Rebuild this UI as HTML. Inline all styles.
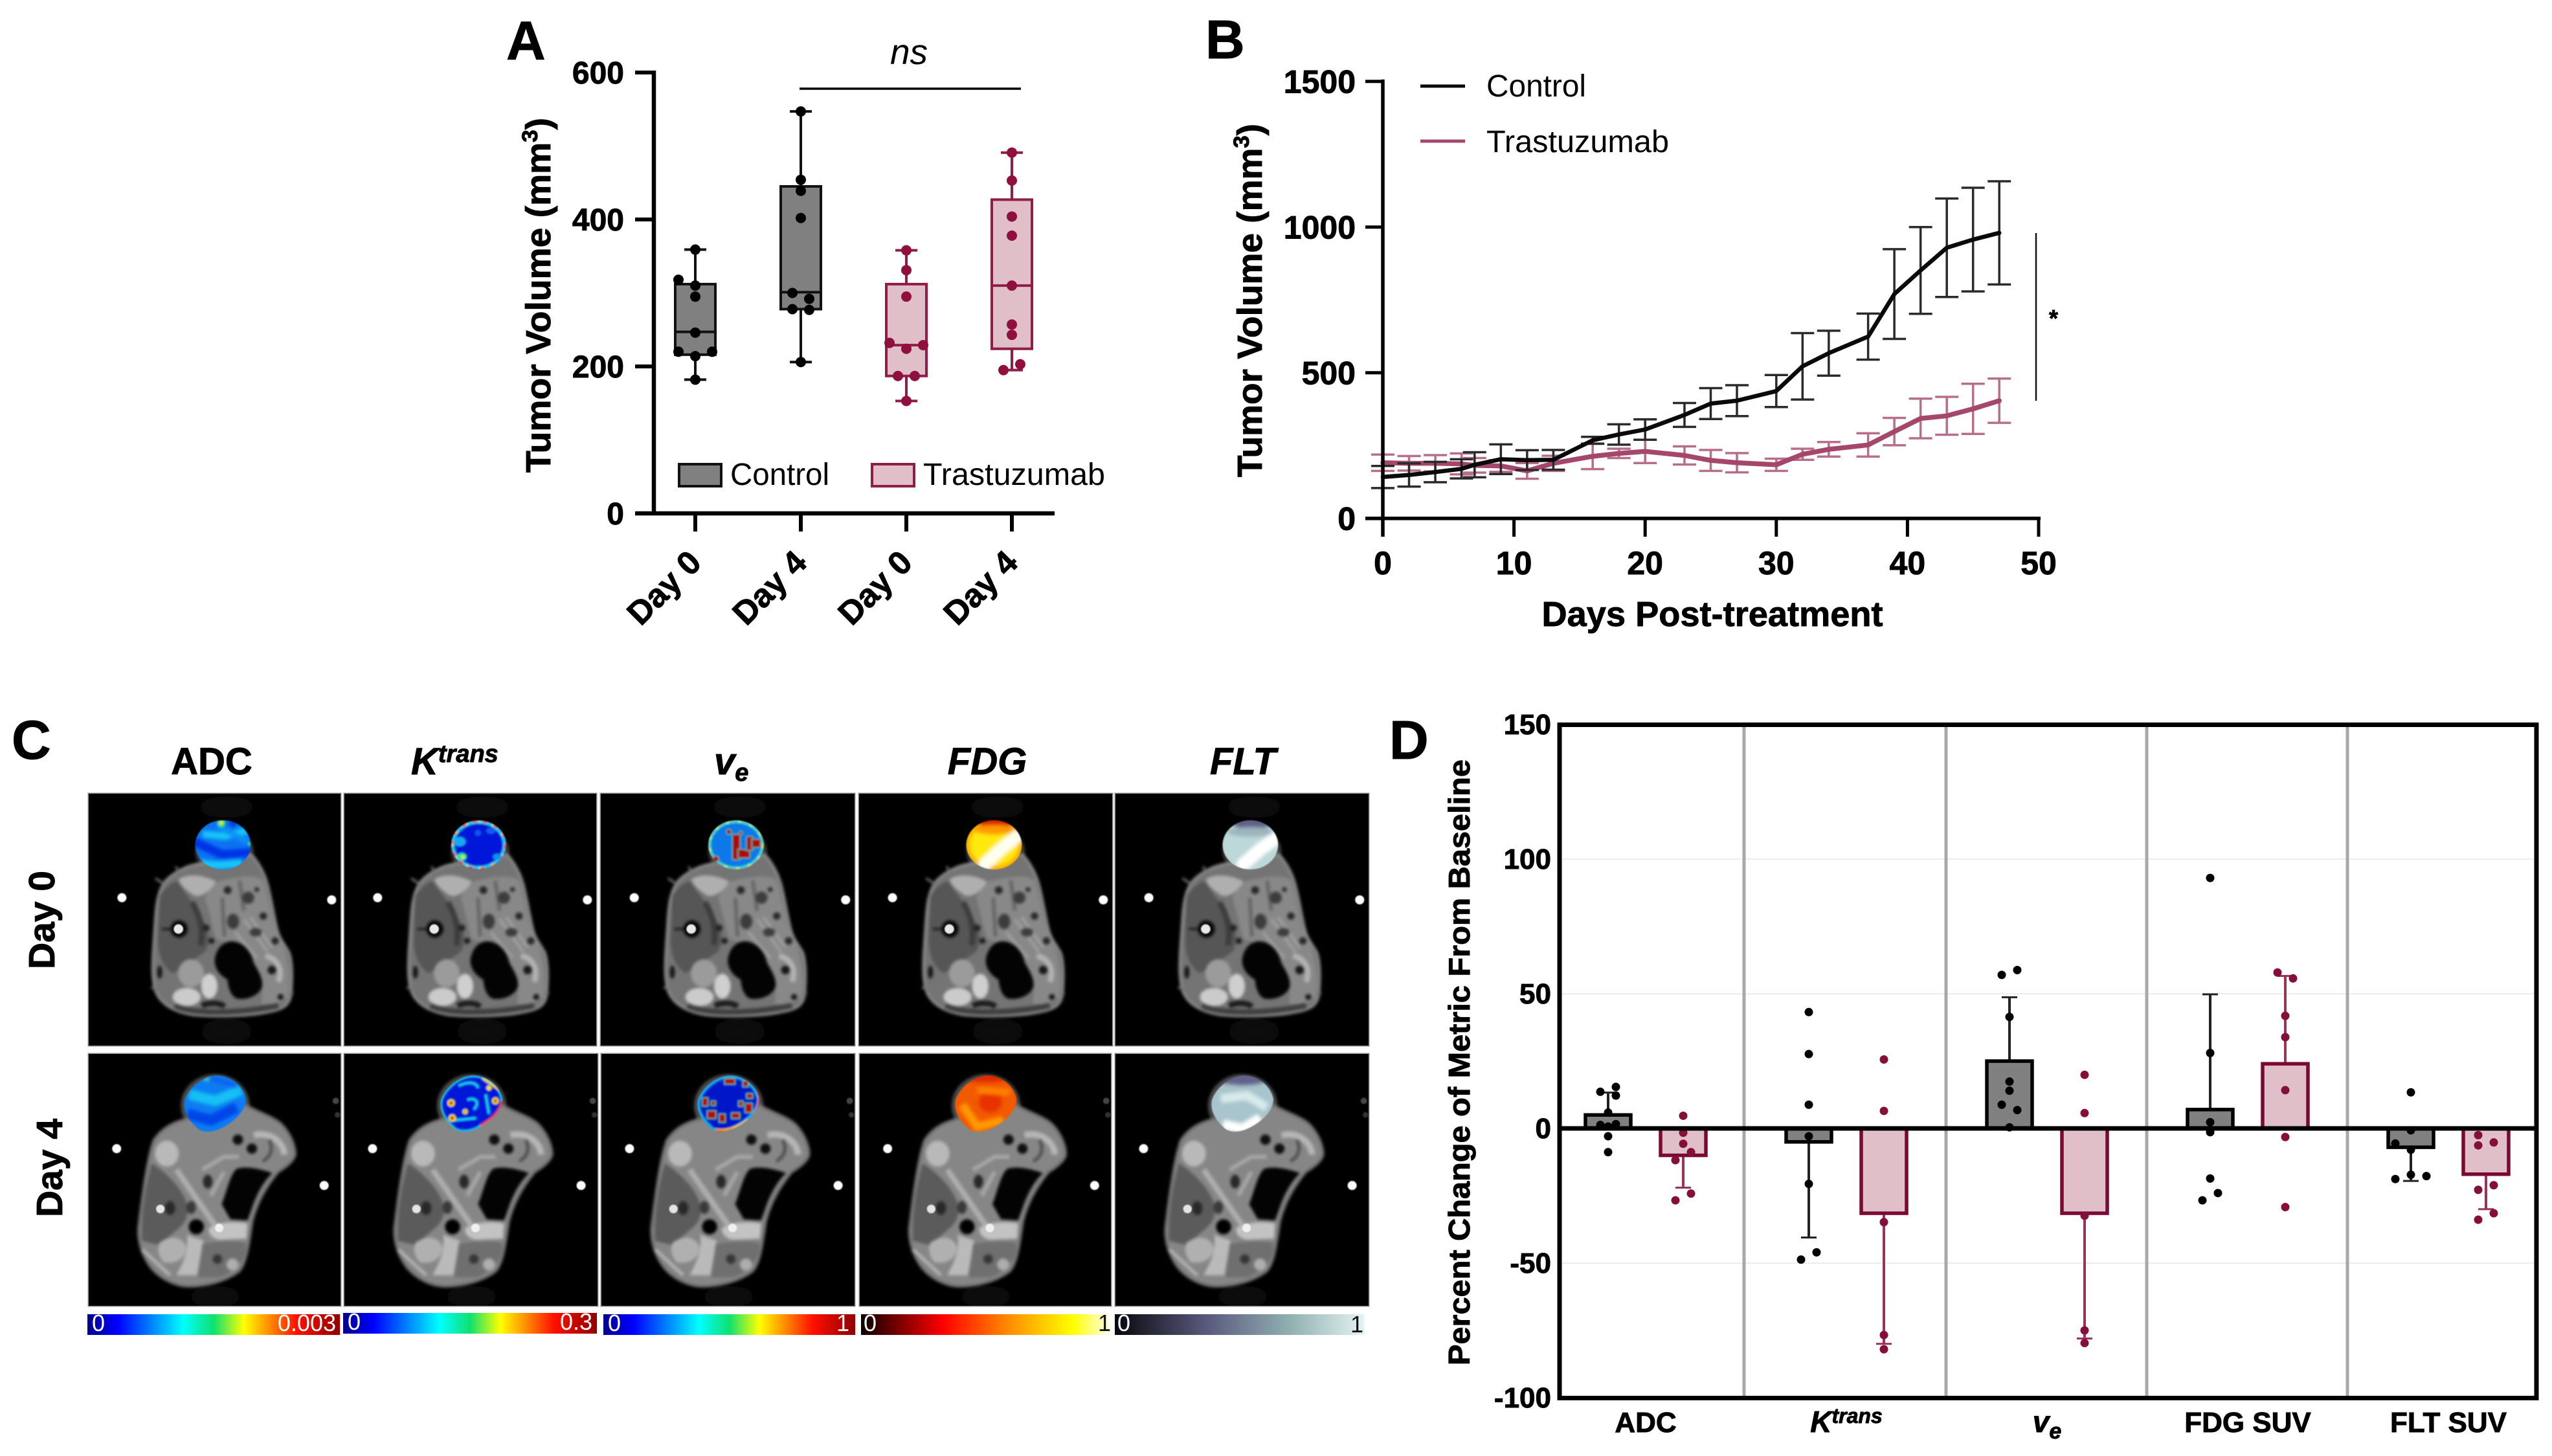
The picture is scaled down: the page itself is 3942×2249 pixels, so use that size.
<!DOCTYPE html>
<html lang="en">
<head>
<meta charset="utf-8">
<title>Tumor response figure</title>
<style>
html,body{margin:0;padding:0;background:#fff;}
svg{display:block;}
text{font-family:"Liberation Sans",sans-serif;}
text[font-weight="700"]{stroke:#000;stroke-width:.9px;}
</style>
</head>
<body>
<svg id="fig" xmlns="http://www.w3.org/2000/svg" width="3942" height="2249" viewBox="0 0 3942 2249">
<defs>
<filter id="soft" x="-10%" y="-10%" width="120%" height="120%"><feGaussianBlur stdDeviation="9"/></filter>
<filter id="softer" x="-10%" y="-10%" width="120%" height="120%"><feGaussianBlur stdDeviation="4"/></filter>
<filter id="edge" x="-10%" y="-10%" width="120%" height="120%"><feGaussianBlur stdDeviation="2.5"/></filter>
<filter id="glow" x="-30%" y="-30%" width="160%" height="160%"><feGaussianBlur stdDeviation="30"/></filter>
<filter id="tissue" x="-5%" y="-5%" width="110%" height="110%" color-interpolation-filters="sRGB">
<feGaussianBlur in="SourceGraphic" stdDeviation="7"/>
<feColorMatrix type="matrix" values=".84 0 0 0 0 0 .84 0 0 0 0 0 .84 0 0 0 0 0 1 0"/>
</filter>
<linearGradient id="jet"><stop offset="0" stop-color="#00008f"/><stop offset=".12" stop-color="#0000ff"/><stop offset=".38" stop-color="#00ffff"/><stop offset=".5" stop-color="#10e070"/><stop offset=".62" stop-color="#ffff00"/><stop offset=".83" stop-color="#ff1000"/><stop offset="1" stop-color="#900000"/></linearGradient>
<linearGradient id="hot"><stop offset="0" stop-color="#0a0000"/><stop offset=".33" stop-color="#ff0000"/><stop offset=".6" stop-color="#ff9000"/><stop offset=".85" stop-color="#ffff00"/><stop offset="1" stop-color="#fffff0"/></linearGradient>
<linearGradient id="bone"><stop offset="0" stop-color="#08080e"/><stop offset=".38" stop-color="#5c5c80"/><stop offset=".7" stop-color="#90b0b0"/><stop offset="1" stop-color="#e4f2f2"/></linearGradient>
<clipPath id="clip-t0"><ellipse cx="643" cy="255" rx="128" ry="114"/></clipPath>
<clipPath id="clip-t4"><path d="M680 122C750 120 810 170 822 230C825 280 770 340 700 370C660 388 620 385 600 370C555 330 530 290 537 240C550 190 610 130 680 122Z"/></clipPath>

<g id="anat-day0">
<rect width="1260" height="1260" fill="#000"/>
<ellipse cx="660" cy="1120" rx="120" ry="60" fill="#111" filter="url(#glow)"/>
<ellipse cx="660" cy="80" rx="130" ry="50" fill="#0e0e0e" filter="url(#glow)"/>
<g filter="url(#tissue)">
<ellipse cx="650" cy="285" rx="135" ry="110" fill="#4a4a4a"/>
<path d="M520 345C470 355 410 385 375 425C345 465 335 520 330 600L320 750C316 830 316 880 330 930C350 985 400 1025 500 1042C600 1052 760 1050 850 1030C910 1020 950 1005 958 950C965 880 965 800 950 755C925 710 905 690 895 650C880 590 870 520 850 440C835 385 810 340 775 300Z" fill="#8a8a8a" stroke="#a8a8a8" stroke-width="12"/>
<path d="M330 410L375 440M425 355L440 385M310 915L345 930M970 942L940 945" stroke="#8a8a8a" stroke-width="10"/>
<path d="M350 490C385 445 410 425 430 425C470 480 510 530 545 590C575 640 590 700 560 750C500 790 450 830 410 850C370 820 345 780 342 700Z" fill="#666"/>
<path d="M500 520C530 570 555 640 540 720" fill="none" stroke="#484848" stroke-width="26"/>
<path d="M600 430C700 400 800 390 830 420C860 520 870 620 900 680C950 760 955 880 945 960C900 1000 860 1000 820 990C840 900 800 790 720 730L610 690C590 620 575 540 560 500Z" fill="#a2a2a2"/>
<path d="M740 600L850 750M770 590L870 730M700 660L800 780" stroke="#c8c8c8" stroke-width="9" fill="none"/>
<path d="M640 500L650 680M720 420L740 560" stroke="#787878" stroke-width="16" fill="none"/>
<path d="M840 770C900 780 920 840 900 890" fill="none" stroke="#d4d4d4" stroke-width="26"/>
<path d="M420 1000C500 1040 700 1040 900 1000" fill="none" stroke="#4a4a4a" stroke-width="26"/>
<path d="M545 1000C580 985 630 985 650 1005" fill="none" stroke="#222" stroke-width="26"/>
<path d="M438 415C480 385 560 395 610 425C590 470 540 500 510 490C480 470 450 450 438 415Z" fill="#d0d0d0"/>
<ellipse cx="495" cy="850" rx="60" ry="65" fill="#b8b8b8"/>
<ellipse cx="475" cy="960" rx="65" ry="42" fill="#f2f2f2"/>
<ellipse cx="580" cy="910" rx="38" ry="58" fill="#f6f6f6"/>
<circle cx="665" cy="465" r="18" fill="#303030"/><circle cx="760" cy="500" r="28" fill="#484848"/><circle cx="800" cy="462" r="11" fill="#303030"/>
<ellipse cx="690" cy="610" rx="28" ry="36" fill="#484848"/><circle cx="830" cy="585" r="17" fill="#303030"/><ellipse cx="795" cy="660" rx="28" ry="20" fill="#484848"/>
<circle cx="885" cy="700" r="17" fill="#303030"/><circle cx="870" cy="835" r="20" fill="#1c1c1c"/><circle cx="910" cy="960" r="14" fill="#1c1c1c"/>
<ellipse cx="350" cy="845" rx="12" ry="30" fill="#1c1c1c"/>
<circle cx="565" cy="640" r="16" fill="#2c2c2c"/><circle cx="590" cy="700" r="14" fill="#222"/>
<path d="M680 702C730 700 775 745 785 800C800 830 830 870 825 910C815 950 760 975 710 968C680 960 665 910 665 880C630 860 605 830 605 790C610 740 640 705 680 702Z" fill="#040404"/>
<circle cx="440" cy="645" r="40" fill="#0c0c0c"/><path d="M360 645L420 645" stroke="#111" stroke-width="8"/>
</g>
<g filter="url(#edge)"><circle cx="437" cy="645" r="22" fill="#e8e8e8"/><circle cx="175" cy="500" r="21" fill="#fff"/><circle cx="1147" cy="510" r="21" fill="#fff"/></g>
</g>

<g id="anat-day4">
<rect x="92" y="22" width="1170" height="1170" fill="#000"/>
<ellipse cx="680" cy="1150" rx="120" ry="50" fill="#0e0e0e" filter="url(#glow)"/>
<g filter="url(#tissue)">
<ellipse cx="680" cy="262" rx="160" ry="146" fill="#5c5c5c"/>
<path d="M530 330C480 345 430 370 395 425C370 500 350 620 325 830C322 880 335 950 380 1010C420 1060 490 1100 560 1100C640 1100 730 1075 790 1030C825 990 835 900 850 800C865 740 895 660 970 570C1010 545 1055 510 1050 480C1045 420 1000 350 960 330C920 305 880 295 820 260Z" fill="#a0a0a0" stroke="#8c8c8c" stroke-width="14"/>
<path d="M385 530C430 560 480 600 520 660C560 720 570 790 500 840L420 910L340 890C335 800 350 660 385 530Z" fill="#6c6c6c"/>
<path d="M710 720C740 640 750 580 780 555C830 540 900 560 945 575C900 620 870 680 850 740L830 795L750 790Z" fill="#040404"/>
<ellipse cx="455" cy="485" rx="55" ry="60" fill="#dcdcdc"/>
<path d="M420 900C470 860 530 870 545 920C545 970 500 1000 440 990C415 960 410 930 420 900Z" fill="#d2d2d2"/>
<path d="M650 830C700 800 780 800 830 810L825 880L700 885C670 880 645 860 650 830Z" fill="#e8e8e8"/>
<path d="M550 860C580 880 610 880 625 890L595 1050L500 1050C530 990 555 950 550 860Z" fill="#dedede"/>
<path d="M620 905C700 890 780 890 820 900C830 950 800 1020 700 1060L600 1060Z" fill="#848484"/>
<circle cx="760" cy="1000" r="28" fill="#cfcfcf"/><circle cx="690" cy="975" r="22" fill="#404040"/>
<path d="M500 560L680 820" stroke="#cfcfcf" stroke-width="26"/>
<path d="M620 560L720 500L790 500M660 680L720 570" stroke="#c8c8c8" stroke-width="18" fill="none"/>
<path d="M860 400C930 380 1000 430 1000 490" fill="none" stroke="#d8d8d8" stroke-width="30"/>
<path d="M930 420C950 460 940 500 900 520" fill="none" stroke="#606060" stroke-width="16"/>
<path d="M340 930L470 1050" stroke="#d8d8d8" stroke-width="14"/>
<circle cx="785" cy="420" r="24" fill="#111"/><circle cx="850" cy="462" r="24" fill="#111"/>
<ellipse cx="645" cy="615" rx="22" ry="32" fill="#303030"/>
<ellipse cx="470" cy="738" rx="24" ry="32" fill="#303030"/><ellipse cx="568" cy="735" rx="22" ry="30" fill="#444"/>
<circle cx="592" cy="825" r="35" fill="#000"/>
</g>
<g filter="url(#edge)"><circle cx="425" cy="742" r="20" fill="#e4e4e4"/><circle cx="698" cy="830" r="20" fill="#f0f0f0"/><circle cx="222" cy="462" r="21" fill="#fff"/><circle cx="1186" cy="633" r="21" fill="#fff"/>
<circle cx="1240" cy="240" r="15" fill="#444"/><circle cx="1248" cy="305" r="13" fill="#333"/></g>
</g>
</defs>
<rect width="3942" height="2249" fill="#fff"/>

<!-- Panel letters -->
<text x="782" y="92" font-size="84" font-weight="700">A</text>
<text x="1862" y="90" font-size="84" font-weight="700">B</text>
<text x="18" y="1172" font-size="84" font-weight="700">C</text>
<text x="2146" y="1172" font-size="84" font-weight="700">D</text>

<g id="panel-a"></g>
<g id="panel-b"></g>

<!-- Panel C -->
<g id="panel-c">
<text x="327" y="1196" text-anchor="middle" font-size="58" font-weight="700">ADC</text>
<text x="635" y="1196" font-size="58" font-weight="700" font-style="italic">K<tspan font-size="38" dy="-19">trans</tspan></text>
<text x="1103" y="1196" font-size="58" font-weight="700" font-style="italic">v<tspan font-size="38" dy="10">e</tspan></text>
<text x="1525" y="1196" text-anchor="middle" font-size="58" font-weight="700" font-style="italic">FDG</text>
<text x="1920" y="1196" text-anchor="middle" font-size="58" font-weight="700" font-style="italic">FLT</text>
<text transform="translate(84 1421) rotate(-90)" text-anchor="middle" font-size="57" font-weight="700">Day 0</text>
<text transform="translate(96 1804) rotate(-90)" text-anchor="middle" font-size="57" font-weight="700">Day 4</text>

<!-- Day 0 row -->
<g fill="none" stroke="#8c8c8c" stroke-width="3">
<rect x="137" y="1226" width="389" height="389"/><rect x="532" y="1226" width="389" height="389"/><rect x="928" y="1226" width="392" height="389"/><rect x="1327" y="1226" width="391" height="389"/><rect x="1723" y="1226" width="391" height="389"/>
</g>
<svg x="137" y="1226" width="389" height="389" viewBox="21 18 1167 1167"><use href="#anat-day0"/>
<g filter="url(#edge)"><g clip-path="url(#clip-t0)"><g filter="url(#soft)"><rect x="480" y="110" width="330" height="290" fill="#0a72f2"/>
<path d="M510 240L640 300L780 290" fill="none" stroke="#0030e6" stroke-width="44"/>
<path d="M550 205L650 215L790 180" fill="none" stroke="#16c8f6" stroke-width="30"/>
<path d="M520 340L620 350L730 340" fill="none" stroke="#12c8f6" stroke-width="34"/>
<path d="M620 170L760 240" fill="none" stroke="#0a90f4" stroke-width="26"/>
<circle cx="690" cy="155" r="18" fill="#0038d0"/></g>
<g filter="url(#softer)"><circle cx="635" cy="155" r="20" fill="#30d890"/><circle cx="635" cy="153" r="9" fill="#e4e020"/><circle cx="765" cy="250" r="8" fill="#40e060"/></g></g></g></svg>
<svg x="532" y="1226" width="389" height="389" viewBox="21 18 1167 1167"><use href="#anat-day0"/>
<g filter="url(#edge)"><g clip-path="url(#clip-t0)"><g filter="url(#softer)"><rect x="480" y="110" width="330" height="290" fill="#0618d8"/>
<ellipse cx="643" cy="255" rx="120" ry="106" fill="none" stroke="#18c8e8" stroke-width="16"/>
<ellipse cx="643" cy="255" rx="124" ry="110" fill="none" stroke="#e82810" stroke-width="10" stroke-dasharray="22 30"/>
<ellipse cx="643" cy="255" rx="122" ry="108" fill="none" stroke="#ece020" stroke-width="8" stroke-dasharray="10 52" stroke-dashoffset="16"/>
<ellipse cx="555" cy="240" rx="28" ry="22" fill="#19a8f0"/><ellipse cx="565" cy="310" rx="22" ry="18" fill="#30e0a0"/><circle cx="570" cy="312" r="8" fill="#e8e020"/>
<ellipse cx="700" cy="190" rx="22" ry="14" fill="#1060e8"/><ellipse cx="730" cy="310" rx="22" ry="14" fill="#1090e8"/><circle cx="640" cy="200" r="14" fill="#0c58ec"/></g></g></g></svg>
<svg x="928" y="1226" width="392" height="389" viewBox="21 18 1167 1167" preserveAspectRatio="none"><use href="#anat-day0"/>
<g filter="url(#edge)"><g clip-path="url(#clip-t0)"><g filter="url(#softer)"><rect x="480" y="110" width="330" height="290" fill="#0a78e8"/>
<ellipse cx="643" cy="255" rx="122" ry="108" fill="none" stroke="#16d8d0" stroke-width="16"/>
<ellipse cx="643" cy="255" rx="124" ry="110" fill="none" stroke="#e8d820" stroke-width="8" stroke-dasharray="16 40"/>
<ellipse cx="643" cy="255" rx="124" ry="110" fill="none" stroke="#e03010" stroke-width="7" stroke-dasharray="10 46" stroke-dashoffset="26"/>
<g fill="#a81010" stroke="#30b8b0" stroke-width="4"><rect x="625" y="205" width="38" height="120"/><rect x="652" y="275" width="55" height="42"/><rect x="690" y="215" width="32" height="66"/><rect x="715" y="228" width="42" height="40"/><circle cx="610" cy="195" r="13"/><circle cx="550" cy="320" r="15"/><circle cx="665" cy="200" r="9"/></g></g></g></g></svg>
<svg x="1327" y="1226" width="391" height="389" viewBox="21 18 1167 1167" preserveAspectRatio="none"><use href="#anat-day0"/>
<g filter="url(#edge)"><g clip-path="url(#clip-t0)"><g filter="url(#soft)"><rect x="480" y="110" width="330" height="290" fill="#ffe810"/>
<ellipse cx="643" cy="255" rx="124" ry="110" fill="none" stroke="#ffa000" stroke-width="20"/>
<ellipse cx="650" cy="150" rx="80" ry="26" fill="#d81c00"/><ellipse cx="645" cy="185" rx="90" ry="22" fill="#ff9800"/>
<path d="M600 345L680 270L750 215" fill="none" stroke="#fffff0" stroke-width="58" stroke-linecap="round"/></g></g></g></svg>
<svg x="1723" y="1226" width="391" height="389" viewBox="21 18 1167 1167" preserveAspectRatio="none"><use href="#anat-day0"/>
<g filter="url(#edge)"><g clip-path="url(#clip-t0)"><g filter="url(#soft)"><rect x="480" y="110" width="330" height="290" fill="#bcd8d8"/>
<ellipse cx="650" cy="150" rx="100" ry="32" fill="#5e5e88"/><ellipse cx="645" cy="195" rx="110" ry="22" fill="#9cb4bc"/>
<path d="M610 345L690 275L760 225" fill="none" stroke="#ffffff" stroke-width="60" stroke-linecap="round"/></g></g></g></svg>

<!-- Day 4 row -->
<g fill="none" stroke="#8c8c8c" stroke-width="3">
<rect x="137" y="1628" width="389" height="389"/><rect x="532" y="1628" width="391" height="389"/><rect x="929" y="1628" width="391" height="389"/><rect x="1328" y="1628" width="388" height="389"/><rect x="1723" y="1628" width="391" height="389"/>
</g>
<svg x="137" y="1628" width="389" height="389" viewBox="92 22 1170 1170" preserveAspectRatio="none"><use href="#anat-day4"/>
<g filter="url(#edge)"><g clip-path="url(#clip-t4)"><g filter="url(#soft)"><rect x="500" y="90" width="360" height="320" fill="#0a7cf2"/>
<path d="M560 210L680 240L800 190" fill="none" stroke="#18c0f4" stroke-width="46"/>
<path d="M550 300L660 330L780 270" fill="none" stroke="#0444e8" stroke-width="52"/>
<path d="M640 130L780 170" fill="none" stroke="#0e64ee" stroke-width="26"/>
<circle cx="640" cy="135" r="12" fill="#30e0a0"/></g></g></g></svg>
<svg x="532" y="1628" width="391" height="389" viewBox="92 22 1170 1170" preserveAspectRatio="none"><use href="#anat-day4"/>
<g filter="url(#edge)"><g clip-path="url(#clip-t4)"><g filter="url(#softer)"><rect x="500" y="90" width="360" height="320" fill="#0618d8"/>
<path d="M680 122C750 120 810 170 822 230C825 280 770 340 700 370C660 388 620 385 600 370C555 330 530 290 537 240C550 190 610 130 680 122Z" fill="none" stroke="#18c8e8" stroke-width="14"/>
<path d="M720 355C780 320 810 290 822 240" fill="none" stroke="#e84010" stroke-width="12"/>
<path d="M730 135L810 190" fill="none" stroke="#e8d020" stroke-width="10"/>
<g fill="none" stroke="#18c8e8" stroke-width="12"><path d="M620 170C660 150 700 150 710 180"/><path d="M660 235C700 220 720 250 690 280"/><path d="M745 210L760 300"/><path d="M600 330L700 320"/></g>
<g fill="#d82010" stroke="#e8e020" stroke-width="8"><circle cx="585" cy="250" r="13"/><circle cx="590" cy="320" r="13"/><circle cx="790" cy="240" r="12"/><circle cx="650" cy="290" r="8"/></g>
<circle cx="760" cy="180" r="12" fill="#e8e020"/></g></g></g></svg>
<svg x="929" y="1628" width="391" height="389" viewBox="92 22 1170 1170" preserveAspectRatio="none"><use href="#anat-day4"/>
<g filter="url(#edge)"><g clip-path="url(#clip-t4)"><g filter="url(#softer)"><rect x="500" y="90" width="360" height="320" fill="#0418c8"/>
<path d="M680 122C750 120 810 170 822 230C825 280 770 340 700 370C660 388 620 385 600 370C555 330 530 290 537 240C550 190 610 130 680 122Z" fill="none" stroke="#18a8f0" stroke-width="22"/>
<path d="M620 375C680 385 730 360 770 330" fill="none" stroke="#f0c010" stroke-width="14"/>
<path d="M620 378C660 388 680 382 700 372" fill="none" stroke="#e83010" stroke-width="10"/>
<path d="M810 180C830 230 820 270 800 300" fill="none" stroke="#e82010" stroke-width="10"/>
<g fill="#b01010" stroke="#30c0a0" stroke-width="4"><rect x="660" y="135" width="50" height="28"/><rect x="745" y="145" width="26" height="30"/><rect x="762" y="205" width="30" height="24"/><rect x="557" y="225" width="28" height="40"/><rect x="598" y="240" width="22" height="22"/><rect x="580" y="285" width="42" height="38"/><rect x="635" y="300" width="30" height="40"/><rect x="692" y="295" width="40" height="28"/><rect x="725" y="240" width="22" height="26"/><rect x="755" y="250" width="35" height="45"/></g></g></g></g></svg>
<svg x="1328" y="1628" width="388" height="389" viewBox="92 22 1170 1170" preserveAspectRatio="none"><use href="#anat-day4"/>
<g filter="url(#edge)"><g clip-path="url(#clip-t4)"><g filter="url(#soft)"><rect x="500" y="90" width="360" height="320" fill="#f25a00"/>
<ellipse cx="680" cy="130" rx="120" ry="26" fill="#e02a00"/><ellipse cx="700" cy="245" rx="55" ry="50" fill="#e83000"/>
<path d="M570 260L640 360L760 330" fill="none" stroke="#ff9a00" stroke-width="36"/>
<path d="M640 190L790 200" fill="none" stroke="#ff8000" stroke-width="30"/></g></g></g></svg>
<svg x="1723" y="1628" width="391" height="389" viewBox="92 22 1170 1170" preserveAspectRatio="none"><use href="#anat-day4"/>
<g filter="url(#edge)"><g clip-path="url(#clip-t4)"><g filter="url(#soft)"><rect x="500" y="90" width="360" height="320" fill="#a8c4cc"/>
<ellipse cx="680" cy="135" rx="120" ry="34" fill="#62628c"/>
<path d="M580 230L700 215L790 270" fill="none" stroke="#d8eaea" stroke-width="40"/>
<path d="M590 350L680 370L760 320" fill="none" stroke="#ffffff" stroke-width="44"/></g></g></g></svg>

<!-- Colour bars -->
<g><rect x="135" y="2030" width="390" height="32" fill="url(#jet)"/><text x="142" y="2056" font-size="36" fill="#fff">0</text><text x="519" y="2056" font-size="36" fill="#fff" text-anchor="end">0.003</text></g>
<g><rect x="530" y="2028" width="392" height="32" fill="url(#jet)"/><text x="537" y="2054" font-size="36" fill="#fff">0</text><text x="915" y="2054" font-size="36" fill="#fff" text-anchor="end">0.3</text></g>
<g><rect x="932" y="2030" width="389" height="32" fill="url(#jet)"/><text x="939" y="2056" font-size="36" fill="#fff">0</text><text x="1312" y="2056" font-size="36" fill="#fff" text-anchor="end">1</text></g>
<g><rect x="1330" y="2030" width="385" height="32" fill="url(#hot)"/><text x="1334" y="2056" font-size="36" fill="#fff">0</text><text x="1716" y="2056" font-size="36" fill="#111" text-anchor="end">1</text></g>
<g><rect x="1722" y="2030" width="385" height="32" fill="url(#bone)"/><text x="1726" y="2056" font-size="36" fill="#fff">0</text><text x="2106" y="2058" font-size="36" fill="#111" text-anchor="end">1</text></g>
</g>

<g id="panel-d"></g>
</svg>

<script>
/* ---------- Panel A data ---------- */
const aCategories = ['Day 0', 'Day 4', 'Day 0', 'Day 4'];
const aGroups = ['control', 'control', 'trastuzumab', 'trastuzumab'];
const aTicks = [0, 200, 400, 600];
const aQ1 = [216, 278, 187, 224];
const aMedian = [247, 301, 229, 310];
const aQ3 = [312, 445, 312, 427];
const aPoints0 = [359, 318, 310, 295, 246, 220, 220, 214, 182];
const aPoints1 = [547, 454, 439, 402, 300, 292, 278, 277, 206];
const aPoints2 = [358, 331, 295, 232, 229, 224, 187, 187, 153];
const aPoints3 = [491, 453, 404, 378, 310, 257, 243, 203, 195];
const aDodge0 = [0, -2, 0, 0, 0, -2, 2, 0, 0];
const aDodge1 = [0, 0, 0, 0, -1, 1, -1, 1, 0];
const aDodge2 = [0, 0, 0, -2, 2, 0, -1, 1, 0];
const aDodge3 = [0, 0, 0, 0, 0, 0, 0, 1, -1];

/* ---------- Panel B data ---------- */
const bDays = [0, 2, 4, 6, 7, 9, 11, 13, 16, 18, 20, 23, 25, 27, 30, 32, 34, 37, 39, 41, 43, 45, 47];
const bControl = [142, 149, 159, 170, 184, 203, 200, 201, 268, 288, 305, 355, 394, 404, 437, 522, 567, 624, 770, 851, 929, 957, 980];
const bControlErr = [38, 40, 35, 33, 43, 51, 34, 34, 12, 35, 35, 41, 53, 53, 55, 114, 77, 79, 154, 149, 169, 178, 177];
const bTrast = [191, 189, 189, 187, 182, 180, 163, 189, 213, 223, 230, 216, 199, 191, 184, 220, 237, 252, 298, 343, 352, 376, 404];
const bTrastErr = [28, 25, 28, 36, 25, 20, 27, 26, 44, 16, 40, 31, 36, 33, 21, 19, 25, 40, 47, 68, 65, 86, 76];
const bXTicks = [0, 10, 20, 30, 40, 50];
const bYTicks = [0, 500, 1000, 1500];

/* ---------- Panel D data ---------- */
const dCategories = ['ADC', 'Ktrans', 've', 'FDG SUV', 'FLT SUV'];
const dYTicks = [150, 100, 50, 0, -50, -100];
const dControlMean = [5, -5, 25, 7, -7];
const dControlErr = [13.3, -40.5, 48.7, 49.8, -19.5];
const dTrastMean = [-10, -31.5, -31.5, 24, -17];
const dTrastErr = [-22, -80, -78, 56.6, -30];
const dControlPts0 = [13.6, 15.4, 12.2, 5.9, 1.3, 1.6, 0.7, -2.9, -8.8];
const dControlDodge0 = [-1, 1, 1, 0, -1, 1, 0, 0, 0];
const dTrastPts0 = [4.7, -1.6, -5.7, -8.8, -11.8, -24.2, -26.7];
const dTrastDodge0 = [0, 0, 0, 1, -1, 1, -1];
const dControlPts1 = [43.2, 27.6, 8.8, -2.9, -20.6, -46, -48.7];
const dControlDodge1 = [0, 0, 0, 0, 0, 1, -1];
const dTrastPts1 = [25.6, 6.5, -34.8, -76.7, -82];
const dTrastDodge1 = [0, 0, 0, 0, 0];
const dControlPts2 = [57, 58.8, 41.4, 17.4, 14, 8.8, 6.8, 0.4];
const dControlDodge2 = [-1, 1, 0, 0, 0, -1, 1, 0];
const dTrastPts2 = [19.9, 5.7, -32.4, -75, -79.7];
const dTrastDodge2 = [0, 0, 0, 0, 0];
const dControlPts3 = [93, 28, 2.3, -1.4, -18.6, -24, -26.7];
const dControlDodge3 = [0, 0, 0, 0, 0, 1, -1];
const dTrastPts3 = [57.9, 55.7, 41.8, 33.9, 14.2, -3.2, -29.2];
const dTrastDodge3 = [-1, 1, 0, 0, 0, 0, 0];
const dControlPts4 = [13.4, -0.7, -5.6, -7.9, -17.2, -18.8, -17.7];
const dControlDodge4 = [0, 0, -2, 0, 0, -2, 2];
const dTrastPts4 = [-2.5, -6.3, -5.2, -21.1, -22.8, -31.5, -33.9];
const dTrastDodge4 = [-1, -1, 1, 1, -1, 1, -1];

const NS = 'http://www.w3.org/2000/svg';
function mk(tag, attrs, parent) {
  const el = document.createElementNS(NS, tag);
  for (const k in attrs) el.setAttribute(k, attrs[k]);
  parent.appendChild(el);
  return el;
}

/* ================= PANEL A ================= */
(function () {
  const root = document.getElementById('panel-a');
  const ay = v => 793 - v * (793 - 112) / 600;
  const ax = i => 1074 + i * 163;
  const colors = {
    control: { fill: '#808080', stroke: '#111111', dot: '#000000' },
    trastuzumab: { fill: '#e0bfc9', stroke: '#8f1d47', dot: '#8f0f3e' }
  };
  const pts = [aPoints0, aPoints1, aPoints2, aPoints3];
  const dodges = [aDodge0, aDodge1, aDodge2, aDodge3];

  let el = mk('line', { x1: 1010, x2: 1010, y1: ay(600) - 3, y2: ay(0) + 3, stroke: '#000', 'stroke-width': 6.5 }, root);
  
  
  el = mk('line', { x1: 981, x2: 1629, y1: ay(0), y2: ay(0), stroke: '#000', 'stroke-width': 6.5 }, root);
  
  

  aTicks.forEach(t => {
    let e = mk('line', { x1: 981, x2: 1010, y1: ay(t), y2: ay(t), stroke: '#000', 'stroke-width': 6 }, root);
    
    
    e = mk('text', { x: 964, y: ay(t) + 17, 'text-anchor': 'end', 'font-size': 48, 'font-weight': 700 }, root);
    e.textContent = t;
    
    
  });

  aCategories.forEach((c, i) => {
    let e = mk('line', { x1: ax(i), x2: ax(i), y1: ay(0), y2: 821, stroke: '#000', 'stroke-width': 6 }, root);
    
    
    e = mk('text', { transform: `translate(${ax(i) + 12} 872) rotate(-45)`, 'text-anchor': 'end', 'font-size': 51, 'font-weight': 700 }, root);
    e.textContent = c;
    
    

    const col = colors[aGroups[i]];
    const hi = Math.max.apply(null, pts[i]);
    const lo = Math.min.apply(null, pts[i]);
    e = mk('line', { x1: ax(i), x2: ax(i), y1: ay(hi), y2: ay(lo), stroke: col.stroke, 'stroke-width': 4 }, root);
    
    
    [hi, lo].forEach(v => {
      const cap = mk('line', { x1: ax(i) - 17, x2: ax(i) + 17, y1: ay(v), y2: ay(v), stroke: col.stroke, 'stroke-width': 4 }, root);
      
      
    });
    e = mk('rect', { x: ax(i) - 31, y: ay(aQ3[i]), width: 62, height: ay(aQ1[i]) - ay(aQ3[i]), fill: col.fill, stroke: col.stroke, 'stroke-width': 4 }, root);
    
    
    e = mk('line', { x1: ax(i) - 31, x2: ax(i) + 31, y1: ay(aMedian[i]), y2: ay(aMedian[i]), stroke: col.stroke, 'stroke-width': 4 }, root);
    
    
    pts[i].forEach((v, j) => {
      const d = mk('circle', { cx: ax(i) + dodges[i][j] * 13, cy: ay(v), r: 8, fill: col.dot }, root);
      
      
    });
  });

  el = mk('text', { transform: 'translate(850 456) rotate(-90)', 'text-anchor': 'middle', 'font-size': 54, 'font-weight': 700, textLength: 548, lengthAdjust: 'spacingAndGlyphs' }, root);
  el.innerHTML = 'Tumor Volume (mm<tspan font-size="34" dy="-20">3</tspan><tspan dy="20">)</tspan>';
  
  

  el = mk('line', { x1: 1235, x2: 1577, y1: 137, y2: 137, stroke: '#000', 'stroke-width': 3.5 }, root);
  
  
  el = mk('text', { x: 1404, y: 99, 'text-anchor': 'middle', 'font-size': 55, 'font-style': 'italic' }, root);
  el.textContent = 'ns';
  
  

  el = mk('rect', { x: 1049, y: 717, width: 65, height: 34, fill: colors.control.fill, stroke: colors.control.stroke, 'stroke-width': 4 }, root);
  
  
  el = mk('text', { x: 1128, y: 749, 'font-size': 48, textLength: 153, lengthAdjust: 'spacingAndGlyphs' }, root);
  el.textContent = 'Control';
  
  
  el = mk('rect', { x: 1347, y: 717, width: 65, height: 34, fill: colors.trastuzumab.fill, stroke: colors.trastuzumab.stroke, 'stroke-width': 4 }, root);
  
  
  el = mk('text', { x: 1426, y: 749, 'font-size': 48, textLength: 281, lengthAdjust: 'spacingAndGlyphs' }, root);
  el.textContent = 'Trastuzumab';
  
  
})();

/* ================= PANEL B ================= */
(function () {
  const root = document.getElementById('panel-b');
  const bx = d => 2136 + d * (3149 - 2136) / 50;
  const by = v => 800.7 - v * (800.7 - 125.7) / 1500;

  function series(vals, errs, lineColor, errColor, lineW, nameBase) {
    vals.forEach((v, i) => {
      const x = bx(bDays[i]);
      const parts = [[x, by(v + errs[i]), x, by(v - errs[i])], [x - 18, by(v + errs[i]), x + 18, by(v + errs[i])], [x - 18, by(v - errs[i]), x + 18, by(v - errs[i])]];
      parts.forEach(p => {
        const l = mk('line', { x1: p[0], y1: p[1], x2: p[2], y2: p[3], stroke: errColor, 'stroke-width': 3.5 }, root);
        
        
      });
    });
    const pl = mk('polyline', { points: vals.map((v, i) => bx(bDays[i]) + ',' + by(v)).join(' '), fill: 'none', stroke: lineColor, 'stroke-width': lineW, 'stroke-linejoin': 'round', 'stroke-linecap': 'round' }, root);
    
    
  }
  series(bTrast, bTrastErr, '#a5476b', '#b66e8a', 7.5, 'b-trastuzumab');
  series(bControl, bControlErr, '#0a0a0a', '#2a2a2a', 6.5, 'b-control');

  let el = mk('line', { x1: 2136, x2: 2136, y1: by(1500) - 3, y2: 829, stroke: '#000', 'stroke-width': 5.5 }, root);
  
  
  el = mk('line', { x1: 2109, x2: 3152, y1: by(0), y2: by(0), stroke: '#000', 'stroke-width': 5.5 }, root);
  
  

  bYTicks.forEach(t => {
    let e = mk('line', { x1: 2109, x2: 2136, y1: by(t), y2: by(t), stroke: '#000', 'stroke-width': 5 }, root);
    
    
    e = mk('text', { x: 2094, y: by(t) + 18, 'text-anchor': 'end', 'font-size': 50, 'font-weight': 700 }, root);
    e.textContent = t;
    
    
  });
  bXTicks.forEach(t => {
    let e = mk('line', { x1: bx(t), x2: bx(t), y1: by(0), y2: 829, stroke: '#000', 'stroke-width': 5 }, root);
    
    
    e = mk('text', { x: bx(t), y: 887, 'text-anchor': 'middle', 'font-size': 50, 'font-weight': 700 }, root);
    e.textContent = t;
    
    
  });

  el = mk('text', { x: 2645, y: 967, 'text-anchor': 'middle', 'font-size': 54, 'font-weight': 700, textLength: 527, lengthAdjust: 'spacingAndGlyphs' }, root);
  el.textContent = 'Days Post-treatment';
  
  
  el = mk('text', { transform: 'translate(1949 464) rotate(-90)', 'text-anchor': 'middle', 'font-size': 54, 'font-weight': 700, textLength: 546, lengthAdjust: 'spacingAndGlyphs' }, root);
  el.innerHTML = 'Tumor Volume (mm<tspan font-size="34" dy="-20">3</tspan><tspan dy="20">)</tspan>';
  
  

  el = mk('line', { x1: 2194, x2: 2263, y1: 133, y2: 133, stroke: '#0a0a0a', 'stroke-width': 5 }, root);
  
  
  el = mk('text', { x: 2296, y: 149, 'font-size': 48, textLength: 154, lengthAdjust: 'spacingAndGlyphs' }, root);
  el.textContent = 'Control';
  
  
  el = mk('line', { x1: 2194, x2: 2263, y1: 218, y2: 218, stroke: '#a5476b', 'stroke-width': 5 }, root);
  
  
  el = mk('text', { x: 2296, y: 235, 'font-size': 48, textLength: 282, lengthAdjust: 'spacingAndGlyphs' }, root);
  el.textContent = 'Trastuzumab';
  
  

  el = mk('line', { x1: 3145, x2: 3145, y1: 360, y2: 619, stroke: '#111', 'stroke-width': 2.5 }, root);
  
  
  el = mk('text', { x: 3172, y: 504, 'text-anchor': 'middle', 'font-size': 36, 'font-weight': 700 }, root);
  el.textContent = '*';
  
  
})();

/* ================= PANEL D ================= */
(function () {
  const root = document.getElementById('panel-d');
  const dy = v => 1743 - v * 4.16;
  const groupX = i => 2542 + i * 310;
  const L = 2409, R = 3918, T = 1119.5, B = 2159.5;

  [100, 50, -50].forEach(t => {
    const g = mk('line', { x1: L, x2: R, y1: dy(t), y2: dy(t), stroke: '#ececec', 'stroke-width': 2 }, root);
    
    
  });
  dCategories.slice(1).forEach((c, i) => {
    const x = (groupX(i) + groupX(i + 1)) / 2 - 1;
    const s = mk('line', { x1: x + (i === 0 ? -2 : 0), x2: x + (i === 0 ? -2 : 0), y1: T, y2: B, stroke: '#a8a8a8', 'stroke-width': 5 }, root);
    
    
  });

  const styles = {
    control: { fill: '#808080', stroke: '#000000', err: '#222222', dot: '#000000', off: -58 },
    trast: { fill: '#e0bfc9', stroke: '#7a0a33', err: '#9a3358', dot: '#850f3b', off: 58 }
  };
  function bar(i, mean, errEnd, st, name) {
    const x = groupX(i) + st.off;
    const e1 = mk('line', { x1: x, x2: x, y1: dy(mean), y2: dy(errEnd), stroke: st.err, 'stroke-width': 4 }, root);
    
    
    const e2 = mk('line', { x1: x - 12, x2: x + 12, y1: dy(errEnd), y2: dy(errEnd), stroke: st.err, 'stroke-width': 3 }, root);
    
    
    const r = mk('rect', { x: x - 35, width: 70, y: Math.min(dy(mean), dy(0)), height: Math.abs(dy(mean) - dy(0)), fill: st.fill, stroke: st.stroke, 'stroke-width': 5.5 }, root);
    
    
  }
  function dots(i, vals, dodge, st, name) {
    vals.forEach((v, j) => {
      const c = mk('circle', { cx: groupX(i) + st.off + dodge[j] * 12, cy: dy(v), r: 6.5, fill: st.dot }, root);
      
      
    });
  }
  const ctlPts = [dControlPts0, dControlPts1, dControlPts2, dControlPts3, dControlPts4];
  const ctlDod = [dControlDodge0, dControlDodge1, dControlDodge2, dControlDodge3, dControlDodge4];
  const trPts = [dTrastPts0, dTrastPts1, dTrastPts2, dTrastPts3, dTrastPts4];
  const trDod = [dTrastDodge0, dTrastDodge1, dTrastDodge2, dTrastDodge3, dTrastDodge4];
  dCategories.forEach((c, i) => {
    bar(i, dControlMean[i], dControlErr[i], styles.control, 'd-control');
    bar(i, dTrastMean[i], dTrastErr[i], styles.trast, 'd-trastuzumab');
    dots(i, ctlPts[i], ctlDod[i], styles.control, 'd-control');
    dots(i, trPts[i], trDod[i], styles.trast, 'd-trastuzumab');
  });

  let el = mk('line', { x1: L, x2: R, y1: dy(0), y2: dy(0), stroke: '#000', 'stroke-width': 7 }, root);
  
  
  el = mk('rect', { x: L, y: T, width: R - L, height: B - T, fill: 'none', stroke: '#000', 'stroke-width': 7 }, root);
  
  

  dYTicks.forEach(t => {
    const e = mk('text', { x: 2396, y: dy(t) + 15, 'text-anchor': 'end', 'font-size': 44, 'font-weight': 700 }, root);
    e.textContent = t;
    
    
  });

  dCategories.forEach((c, i) => {
    const e = mk('text', { x: groupX(i), y: 2212, 'text-anchor': 'middle', 'font-size': 44, 'font-weight': 700 }, root);
    if (c === 'Ktrans') {
      e.innerHTML = '<tspan font-style="italic" font-size="46">K</tspan><tspan font-style="italic" font-size="32" dy="-14">trans</tspan>';
    } else if (c === 've') {
      e.innerHTML = '<tspan font-style="italic" font-size="46">v</tspan><tspan font-style="italic" font-size="34" dy="10">e</tspan>';
    } else {
      e.textContent = c;
    }
    
    
  });

  el = mk('text', { transform: 'translate(2270 1641) rotate(-90)', 'text-anchor': 'middle', 'font-size': 46, 'font-weight': 700, textLength: 936, lengthAdjust: 'spacingAndGlyphs' }, root);
  el.textContent = 'Percent Change of Metric From Baseline';
  
  
})();
</script>
</body>
</html>
